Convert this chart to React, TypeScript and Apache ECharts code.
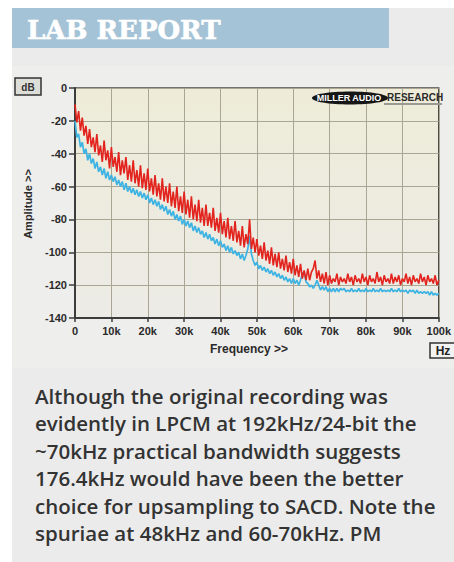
import React, { useEffect, useRef } from "react";
import * as echarts from "echarts";

// Frequency sampling step of the traces, in kHz
const FREQ_STEP_KHZ = 0.5;

// Upper (red) trace, dB, one value every 0.5 kHz from 0 to 100 kHz
const RED_DB: number[] = [
  -10, -21, -14, -26, -18, -29, -23, -34, -25, -36, -30, -39, -28, -41, -35, -45, -32, -44, -38, -49,
  -36, -48, -42, -51, -39, -53, -44, -52, -42, -56, -47, -57, -44, -58, -50, -60, -47, -61, -52, -62,
  -49, -63, -55, -65, -53, -66, -58, -68, -55, -69, -60, -70, -58, -72, -63, -73, -60, -75, -66, -76,
  -63, -77, -68, -79, -66, -80, -71, -81, -68, -82, -73, -84, -71, -84, -76, -85, -73, -87, -79, -88,
  -76, -89, -81, -91, -79, -92, -84, -93, -81, -94, -87, -96, -84, -97, -89, -95, -80, -98, -91, -100,
  -92, -102, -96, -104, -94, -105, -99, -107, -97, -108, -101, -109, -100, -110, -104, -111, -102, -112, -106, -113,
  -104, -114, -108, -115, -107, -116, -111, -117, -110, -117, -112, -110, -105, -116, -111, -118, -113, -119, -112, -120,
  -114, -119, -116, -118, -113, -120, -115, -118, -116, -119, -113, -118, -115, -120, -114, -118, -116, -119, -113, -118,
  -115, -120, -114, -118, -116, -119, -112, -118, -115, -120, -114, -118, -116, -119, -113, -119, -115, -118, -114, -120,
  -116, -118, -113, -119, -115, -120, -114, -118, -116, -119, -113, -118, -115, -120, -114, -118, -116, -119, -114, -120,
  -117,
];

// Lower (cyan) trace, dB, one value every 0.5 kHz from 0 to 100 kHz
const CYAN_DB: number[] = [
  -20, -30, -28, -36, -33, -40, -37, -44, -40, -46, -43, -49, -45, -51, -48, -53, -49, -55, -51, -56,
  -53, -57, -54, -59, -56, -60, -57, -62, -58, -63, -60, -64, -61, -65, -62, -66, -63, -67, -64, -68,
  -65, -70, -67, -71, -68, -72, -69, -74, -71, -75, -72, -77, -74, -78, -75, -80, -77, -81, -78, -83,
  -80, -84, -81, -85, -82, -87, -84, -88, -85, -89, -87, -91, -88, -92, -89, -93, -91, -95, -92, -96,
  -93, -97, -95, -99, -96, -100, -97, -101, -99, -102, -100, -104, -101, -105, -102, -98, -90, -101, -105, -108,
  -106, -110, -108, -111, -109, -112, -110, -113, -111, -114, -112, -115, -113, -116, -114, -117, -115, -118, -116, -119,
  -116, -119, -117, -120, -117, -113, -112, -118, -119, -121, -120, -122, -120, -117, -120, -123, -121, -123, -121, -124,
  -122, -124, -122, -124, -122, -124, -122, -123, -122, -124, -123, -124, -122, -124, -123, -124, -122, -124, -123, -124,
  -122, -124, -123, -124, -122, -124, -123, -124, -122, -124, -123, -124, -123, -124, -122, -124, -123, -124, -122, -124,
  -123, -124, -123, -125, -123, -124, -123, -125, -123, -125, -124, -125, -124, -125, -124, -126, -124, -126, -125, -126,
  -125,
];

const Y_MIN = -140;
const Y_MAX = 0;
const Y_STEP = 20;
const X_MIN = 0;
const X_MAX = 100;
const X_STEP = 10;

const TITLE = "LAB REPORT";
const CAPTION_LINES = [
  "Although the original recording was",
  "evidently in LPCM at 192kHz/24-bit the",
  "~70kHz practical bandwidth suggests",
  "176.4kHz would have been the better",
  "choice for upsampling to SACD. Note the",
  "spuriae at 48kHz and 60-70kHz. PM",
];

const toPairs = (vals: number[]) => vals.map((v, i) => [i * FREQ_STEP_KHZ, v]);

const AXIS_FONT = '"Liberation Sans", Arial, sans-serif';

export default function App() {
  const ref = useRef<HTMLDivElement>(null);
  useEffect(() => {
    const chart = echarts.init(ref.current!, null, { renderer: "svg" });
    const option: any = {
      animation: false,
      backgroundColor: "#ffffff",
      grid: {
        left: 75,
        top: 88,
        width: 368,
        height: 230,
        show: true,
        backgroundColor: {
          type: "linear",
          x: 0,
          y: 0,
          x2: 0,
          y2: 1,
          colorStops: [
            { offset: 0, color: "#eeecd8" },
            { offset: 1, color: "#ecebe6" },
          ],
        },
        borderColor: "#4a4a4a",
        borderWidth: 1.5,
      },
      xAxis: {
        type: "value",
        min: X_MIN,
        max: X_MAX,
        interval: X_STEP,
        axisLine: { show: true, onZero: false, lineStyle: { color: "#3c3c3c", width: 2 } },
        axisTick: { show: true, length: 4, lineStyle: { color: "#3c3c3c", width: 1.5 } },
        splitLine: { show: true, lineStyle: { color: "#aaa693", width: 1 } },
        axisLabel: {
          margin: 7,
          color: "#2a2a2a",
          fontWeight: "bold",
          fontSize: 11,
          fontFamily: AXIS_FONT,
          formatter: (v: number) => (v === 0 ? "0" : v + "k"),
        },
      },
      yAxis: {
        type: "value",
        min: Y_MIN,
        max: Y_MAX,
        interval: Y_STEP,
        axisLine: { show: true, onZero: false, lineStyle: { color: "#3c3c3c", width: 2 } },
        axisTick: { show: true, length: 6, lineStyle: { color: "#3c3c3c", width: 1.5 } },
        splitLine: { show: true, lineStyle: { color: "#aaa693", width: 1 } },
        axisLabel: {
          margin: 8,
          color: "#2a2a2a",
          fontWeight: "bold",
          fontSize: 11,
          fontFamily: AXIS_FONT,
        },
      },
      series: [
        {
          type: "line",
          name: "Lower",
          data: toPairs(CYAN_DB),
          symbol: "none",
          lineStyle: { color: "#3db3e3", width: 1.7 },
          z: 3,
        },
        {
          type: "line",
          name: "Upper",
          data: toPairs(RED_DB),
          symbol: "none",
          lineStyle: { color: "#e3231d", width: 1.6 },
          z: 4,
        },
      ],
      graphic: [
        { type: "rect", z: -20, shape: { x: 12, y: 8, width: 442, height: 554 }, style: { fill: "#ebebeb" } },
        { type: "rect", z: -19, shape: { x: 12, y: 66, width: 442, height: 302 }, style: { fill: "#eeeeec" } },
        { type: "rect", z: -18, shape: { x: 12, y: 8, width: 377, height: 40 }, style: { fill: "#a5c3d6" } },
        {
          type: "text",
          z: 10,
          x: 27,
          y: 30,
          style: {
            text: TITLE,
            fill: "#ffffff",
            stroke: "#ffffff",
            lineWidth: 0.6,
            font: 'bold 26px "DejaVu Serif", serif',
            verticalAlign: "middle",
            align: "left",
          },
        },
        // dB unit box
        {
          type: "rect",
          z: 10,
          shape: { x: 15, y: 78, width: 26, height: 17 },
          style: { fill: "#deded8", stroke: "#333", lineWidth: 1.5 },
        },
        {
          type: "text",
          z: 11,
          x: 28,
          y: 87,
          style: { text: "dB", fill: "#333", font: `bold 10px ${AXIS_FONT}`, align: "center", verticalAlign: "middle" },
        },
        // Hz unit box
        {
          type: "rect",
          z: 10,
          shape: { x: 430, y: 343, width: 28, height: 15 },
          style: { fill: "#f2f2f0", stroke: "#333", lineWidth: 1.5 },
        },
        {
          type: "text",
          z: 11,
          x: 443,
          y: 351,
          style: { text: "Hz", fill: "#222", font: `bold 12px ${AXIS_FONT}`, align: "center", verticalAlign: "middle" },
        },
        // axis names
        {
          type: "text",
          z: 10,
          x: 210,
          y: 349,
          style: { text: "Frequency >>", fill: "#2a2a2a", font: `bold 12px ${AXIS_FONT}`, align: "left", verticalAlign: "middle" },
        },
        {
          type: "text",
          z: 10,
          x: 28,
          y: 204,
          rotation: Math.PI / 2,
          style: { text: "Amplitude >>", fill: "#2a2a2a", font: `bold 11px ${AXIS_FONT}`, align: "center", verticalAlign: "middle" },
        },
        // logo
        {
          type: "ellipse",
          z: 12,
          shape: { cx: 350, cy: 98, rx: 38, ry: 6.5 },
          style: { fill: "#161616" },
        },
        {
          type: "text",
          z: 13,
          x: 349,
          y: 98,
          style: { text: "MILLER AUDIO", fill: "#ffffff", font: `bold 9px ${AXIS_FONT}`, align: "center", verticalAlign: "middle" },
        },
        {
          type: "text",
          z: 13,
          x: 387,
          y: 97,
          style: { text: "RESEARCH", fill: "#2a2a2a", font: `bold 10px ${AXIS_FONT}`, align: "left", verticalAlign: "middle" },
        },
        {
          type: "rect",
          z: 13,
          shape: { x: 384, y: 103, width: 58, height: 2 },
          style: { fill: "#9a9a94" },
        },
        // caption
        {
          type: "text",
          z: 10,
          x: 35,
          y: 382,
          style: {
            text: CAPTION_LINES.join("\n"),
            fill: "#333333",
            font: '600 20.5px "Open Sans", sans-serif',
            lineHeight: 27.5,
            align: "left",
            verticalAlign: "top",
          },
        },
      ],
    };
    chart.setOption(option);
    return () => chart.dispose();
  }, []);
  return (
    <div
      ref={ref}
      style={{ position: "fixed", left: 0, top: 0, width: 454, height: 562 }}
    />
  );
}
